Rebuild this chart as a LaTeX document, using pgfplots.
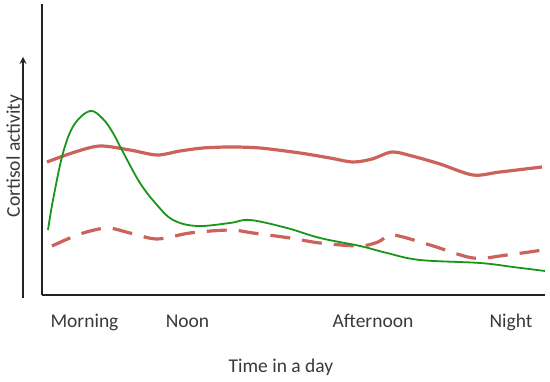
\documentclass[border=0pt]{standalone}
\usepackage{pgfplots}
\pgfplotsset{compat=1.18}
\usepackage{fontspec}
\setmainfont{Carlito}
\definecolor{cred}{RGB}{205,98,92}
\definecolor{cgreen}{RGB}{25,150,25}
\definecolor{caxis}{RGB}{35,35,35}
\begin{document}
\begin{tikzpicture}
\begin{axis}[
  scale only axis, width=503pt, height=291pt,
  xmin=42, xmax=545, ymin=0, ymax=291,
  axis lines*=left,
  axis line style={caxis, line width=2.2pt},
  xtick=\empty, ytick=\empty,
  clip=false,
]
\path (axis cs:0,-87) rectangle (axis cs:550,295);
\addplot[cred, line width=3.2pt, smooth, tension=0.5] coordinates {
(47,133)(75,143)(100,149)(130,145)(157,140)(180,144)(203,147)(230,148)(260,147)(300,142)(330,137)(353,133)(372,136)(392,143)(412,139)(440,131)(473,120)(500,123)(542,128)};
\addplot[cred, line width=3.2pt, smooth, tension=0.5, dash pattern=on 20pt off 12pt] coordinates {
(52,49)(80,61)(107,67)(130,62)(157,56)(190,62)(230,65)(253,62)(290,57)(320,52)(360,49)(378,53)(393,60)(430,50)(473,37)(507,40)(543,45)};
\addplot[cgreen, line width=1.8pt, smooth, tension=0.6] coordinates {
(48,65)(53,95)(63,142)(74,170)(90,184)(103,176)(113,162)(123,143)(140,112)(157,90)(173,75)(197,69)(230,72)(250,75)(287,67)(320,57)(360,49)(387,42)(420,35)(480,32)(513,28)(545,24)};
\draw[caxis, line width=2pt, -stealth] (axis cs:23,-3) -- (axis cs:23,238);
\node[rotate=90, anchor=base, font=\fontsize{19.5}{23}\selectfont, text=caxis!90] at (axis cs:20,139) {Cortisol activity};
\node[anchor=base, font=\fontsize{19.5}{23}\selectfont, text=caxis!90] at (axis cs:84.5,-33) {Morning};
\node[anchor=base, font=\fontsize{19.5}{23}\selectfont, text=caxis!90] at (axis cs:187.5,-33) {Noon};
\node[anchor=base, font=\fontsize{19.5}{23}\selectfont, text=caxis!90] at (axis cs:373,-33) {Afternoon};
\node[anchor=base, font=\fontsize{19.5}{23}\selectfont, text=caxis!90] at (axis cs:511,-33) {Night};
\node[anchor=base, font=\fontsize{19.5}{23}\selectfont, text=caxis!90] at (axis cs:281,-78) {Time in a day};
\end{axis}
\end{tikzpicture}
\end{document}
